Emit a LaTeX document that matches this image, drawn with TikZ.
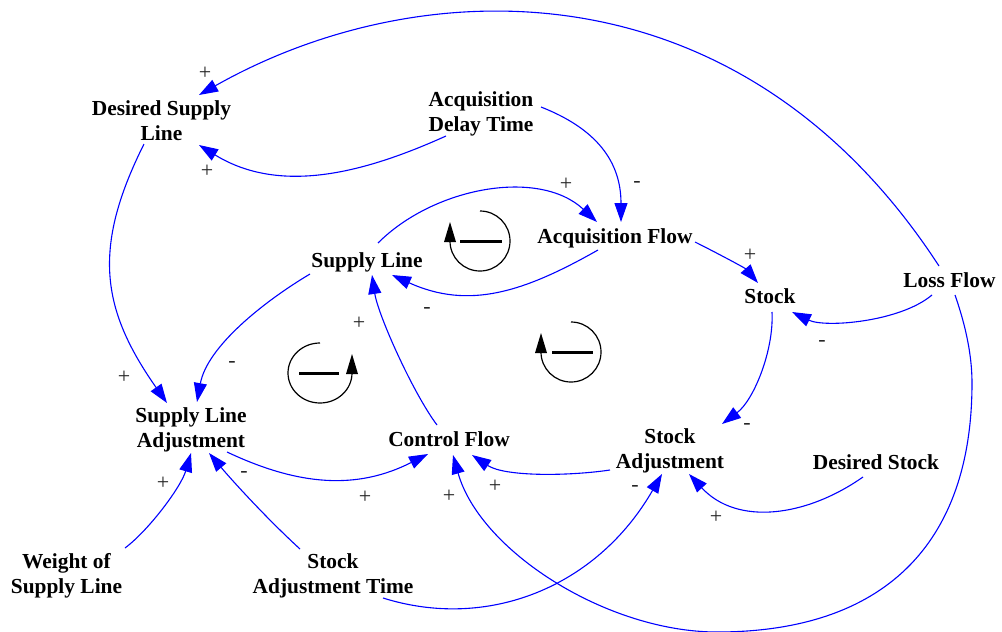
\documentclass[tikz,border=0pt]{standalone}
\usepackage{fontspec}
\setmainfont{Liberation Serif}
\usetikzlibrary{arrows.meta,calc}
\newcommand{\vlab}[1]{\begin{tabular}[t]{@{}c@{}}#1\end{tabular}}
\begin{document}
\begin{tikzpicture}[x=1pt,y=-1pt,
  var/.style={anchor=base,inner sep=0pt,font=\bfseries\fontsize{21.4}{25}\selectfont},
  sgn/.style={inner sep=0pt,text=black!85,font=\fontsize{22}{22}\selectfont},
  lnk/.style={draw=blue,line width=1.1pt,-{Triangle[length=19pt,width=13pt]}},
  loopc/.style={draw=black,line width=1.2pt},
  loopbar/.style={draw=black,line width=3pt}]
\useasboundingbox (0,0) rectangle (1002,632);
% variables
\node[var] (dsl) at (161.5,115) {\vlab{Desired Supply\\Line}};
\node[var] (adt) at (481,106) {\vlab{Acquisition\\Delay Time}};
\node[var] (af) at (615,243) {Acquisition Flow};
\node[var] (sl) at (367,267) {Supply Line};
\node[var] (stock) at (770,303) {Stock};
\node[var] (loss) at (949.5,287) {Loss Flow};
\node[var] (sla) at (191,422) {\vlab{Supply Line\\Adjustment}};
\node[var] (cf) at (449,446) {Control Flow};
\node[var] (sa) at (670,443) {\vlab{Stock\\Adjustment}};
\node[var] (ds) at (876,469) {Desired Stock};
\node[var] (wsl) at (66.5,568) {\vlab{Weight of\\Supply Line}};
\node[var] (sat) at (333,568) {\vlab{Stock\\Adjustment Time}};
% links
\draw[lnk] ($(loss.base)+(-10.5,-21)$) .. controls (740,-40) and (420,-30) .. ($(dsl.base)+(37.5,-20)$);
\draw[lnk] ($(adt.base)+(-35,30)$) .. controls (364,173) and (280,195) .. ($(dsl.base)+(37.5,30)$);
\draw[lnk] ($(adt.base)+(60,1)$) .. controls (597,129) and (621,162) .. ($(af.base)+(6,-21)$);
\draw[lnk] ($(sl.base)+(11,-24)$) .. controls (434,187) and (539,168) .. ($(af.base)+(-18,-21)$);
\draw[lnk] ($(af.base)+(-17,7)$) .. controls (524,292) and (469,310) .. ($(sl.base)+(25,8)$);
\draw[lnk] ($(af.base)+(80,-1)$) .. controls (717,253) and (745,268) .. ($(stock.base)+(-12,-20)$);
\draw[lnk] ($(loss.base)+(-17.5,8)$) .. controls (900,322) and (825,328) .. ($(stock.base)+(22,9)$);
\draw[lnk] ($(stock.base)+(2,9)$) .. controls (774,350) and (754,400) .. ($(sa.base)+(52,-19)$);
\draw[lnk] ($(loss.base)+(5.5,8)$) .. controls (963,318) and (972,350) .. (972,383)
  .. controls (972,545) and (883,632) .. (717,632)
  .. controls (607,632) and (480,551) .. ($(cf.base)+(4,9)$);
\draw[lnk] ($(sa.base)+(-60,27)$) .. controls (570,476) and (505,477) .. ($(cf.base)+(23,9)$);
\draw[lnk] ($(sla.base)+(36,30)$) .. controls (299,486) and (357,490) .. ($(cf.base)+(-21,8)$);
\draw[lnk] ($(cf.base)+(-12,-21)$) .. controls (413,393) and (378,315) .. ($(sl.base)+(5,8)$);
\draw[lnk] ($(sl.base)+(-57,7)$) .. controls (263,302) and (207,347) .. ($(sla.base)+(6,-20)$);
\draw[lnk] ($(dsl.base)+(-17.5,29)$) .. controls (92,248) and (101,309) .. ($(sla.base)+(-24,-19)$);
\draw[lnk] ($(wsl.base)+(58.5,-20)$) .. controls (149,530) and (181,487) .. ($(sla.base)+(0,31)$);
\draw[lnk] ($(sat.base)+(-33,-19)$) .. controls (265,517) and (230,478) .. ($(sla.base)+(18,31)$);
\draw[lnk] ($(sat.base)+(50,30)$) .. controls (488,631) and (597,587) .. ($(sa.base)+(-8,31)$);
\draw[lnk] ($(ds.base)+(-13,8)$) .. controls (806,517) and (737,526) .. ($(sa.base)+(19,31)$);
% polarity signs
\node[sgn] (p1) at (205,73) {+};
\node[sgn] (p2) at (207,171) {+};
\node[sgn] (p3) at (566,184) {+};
\node[sgn] (m1) at (637,184) {-};
\node[sgn] (m2) at (427,310) {-};
\node[sgn] (p4) at (750,255) {+};
\node[sgn] (m3) at (822,343) {-};
\node[sgn] (m4) at (747,426) {-};
\node[sgn] (p5) at (359,323) {+};
\node[sgn] (m5) at (232,364) {-};
\node[sgn] (p6) at (124,377) {+};
\node[sgn] (p7) at (163,483) {+};
\node[sgn] (m6) at (244,474) {-};
\node[sgn] (p8) at (365,497) {+};
\node[sgn] (p9) at (449,496) {+};
\node[sgn] (p10) at (495,486) {+};
\node[sgn] (m7) at (635,488) {-};
\node[sgn] (p11) at (716,517) {+};
% loop symbols
\draw[loopc] (480,211) arc[start angle=-90,end angle=180,radius=30];
\fill (450,222) -- (444,242) -- (456,242) -- cycle;
\draw[loopbar] (460,241) -- (502,241);
\draw[loopc] (320,343) arc[start angle=270,end angle=0,x radius=32,y radius=30];
\fill (352,354) -- (346,374) -- (358,374) -- cycle;
\draw[loopbar] (299,373) -- (339,373);
\draw[loopc] (571,322) arc[start angle=-90,end angle=180,radius=30];
\fill (541,333) -- (535,353) -- (547,353) -- cycle;
\draw[loopbar] (552,352) -- (593,352);
\end{tikzpicture}
\end{document}
